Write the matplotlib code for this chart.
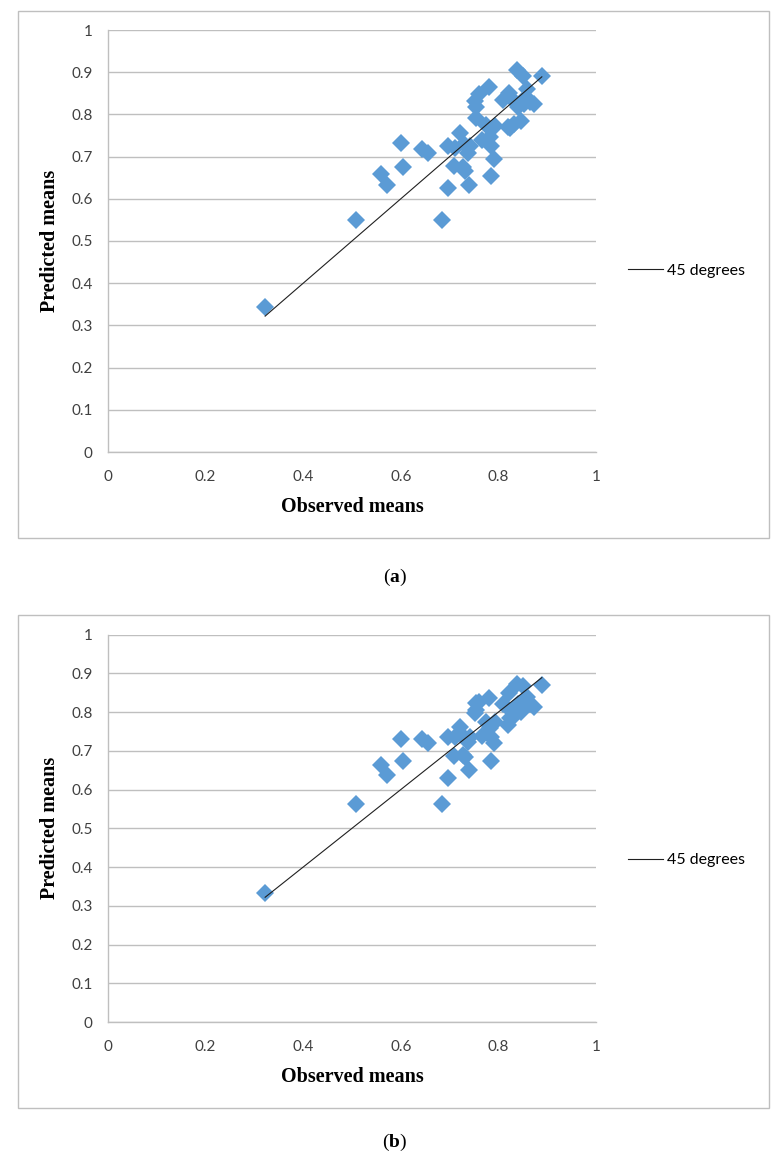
import matplotlib
matplotlib.use("Agg")
import matplotlib.pyplot as plt
from matplotlib.patches import Rectangle

plt.rcParams['mathtext.fontset'] = 'custom'
plt.rcParams['mathtext.rm'] = 'Liberation Serif'
plt.rcParams['mathtext.bf'] = 'Liberation Serif:bold'

# ---- data ----
observed = [0.322, 0.508, 0.559, 0.571, 0.601, 0.605, 0.643, 0.655, 0.684, 0.697,
            0.696, 0.708, 0.711, 0.721, 0.728, 0.732, 0.730, 0.738, 0.740, 0.742,
            0.752, 0.754, 0.755, 0.760, 0.766, 0.775, 0.781, 0.783, 0.785, 0.785,
            0.790, 0.793, 0.810, 0.820, 0.822, 0.824, 0.827, 0.831, 0.839, 0.841,
            0.846, 0.851, 0.852, 0.857, 0.858, 0.865, 0.872, 0.889]
predicted_a = [0.344, 0.550, 0.659, 0.632, 0.733, 0.675, 0.718, 0.708, 0.549, 0.626,
               0.724, 0.677, 0.721, 0.756, 0.675, 0.667, 0.730, 0.708, 0.633, 0.726,
               0.831, 0.817, 0.792, 0.849, 0.740, 0.776, 0.864, 0.746, 0.724, 0.654,
               0.695, 0.772, 0.833, 0.770, 0.850, 0.767, 0.837, 0.778, 0.906, 0.817,
               0.784, 0.892, 0.825, 0.842, 0.861, 0.829, 0.825, 0.892]
predicted_b = [0.332, 0.564, 0.663, 0.637, 0.730, 0.673, 0.730, 0.721, 0.563, 0.631,
               0.735, 0.686, 0.735, 0.762, 0.689, 0.684, 0.735, 0.723, 0.650, 0.735,
               0.797, 0.824, 0.805, 0.826, 0.738, 0.775, 0.837, 0.758, 0.736, 0.673,
               0.720, 0.775, 0.820, 0.766, 0.848, 0.784, 0.800, 0.790, 0.872, 0.822,
               0.800, 0.867, 0.815, 0.825, 0.840, 0.822, 0.814, 0.870]
x_ticks = [0, 0.2, 0.4, 0.6, 0.8, 1]
x_tick_labels = ["0", "0.2", "0.4", "0.6", "0.8", "1"]
y_ticks = [i / 10 for i in range(11)]
y_tick_labels = ["0", "0.1", "0.2", "0.3", "0.4", "0.5", "0.6", "0.7", "0.8", "0.9", "1"]
panel_labels = ["a", "b"]
legend_label = "45 degrees"

W, H = 780, 1158
fig = plt.figure(figsize=(W / 100, H / 100), dpi=100)

def px_rect(x0, y0, x1, y1):
    return [x0 / W, 1 - y1 / H, (x1 - x0) / W, (y1 - y0) / H]

GRID = '#BFBFBF'
BLUE = '#5B9BD5'
tick_font = 'Lato'

panels = [
    dict(pred=predicted_a, ax=(108, 30, 596, 452), box=(17.5, 10.7, 769, 538), lab_y=577, leg_y=0.43),
    dict(pred=predicted_b, ax=(108, 634.6, 596, 1022), box=(17.5, 615, 769, 1108), lab_y=1142, leg_y=0.418),
]

for p, plab in zip(panels, panel_labels):
    bx0, by0, bx1, by1 = p['box']
    fig.patches.append(Rectangle((bx0 / W, 1 - by1 / H), (bx1 - bx0) / W, (by1 - by0) / H,
                                 transform=fig.transFigure, fill=False,
                                 edgecolor=GRID, linewidth=1.0))
    ax = fig.add_axes(px_rect(*p['ax']))
    ax.set_xlim(0, 1)
    ax.set_ylim(0, 1)
    ax.set_xticks(x_ticks)
    ax.set_xticklabels(x_tick_labels, fontfamily=tick_font, fontsize=11)
    ax.set_yticks(y_ticks)
    ax.set_yticklabels(y_tick_labels, fontfamily=tick_font, fontsize=11)
    ax.tick_params(axis='both', length=0, colors='#404040')
    ax.tick_params(axis='x', pad=13)
    ax.tick_params(axis='y', pad=11)
    ax.yaxis.grid(True, color=GRID, linewidth=1.0)
    ax.set_axisbelow(True)
    for s in ['top', 'right']:
        ax.spines[s].set_visible(False)
    for s in ['left', 'bottom']:
        ax.spines[s].set_color(GRID)
        ax.spines[s].set_linewidth(1.0)
    ax.plot(observed, p['pred'], linestyle='none', marker='D', markersize=9,
            color=BLUE, markeredgewidth=0, zorder=3)
    line, = ax.plot([min(observed), max(observed)], [min(observed), max(observed)],
                    color='#202020', linewidth=0.8, zorder=4)
    ax.set_xlabel("Observed means", fontfamily='Liberation Serif', fontweight='bold',
                  fontsize=14.5, labelpad=9)
    ax.set_ylabel("Predicted means", fontfamily='Liberation Serif', fontweight='bold',
                  fontsize=14.5, labelpad=8)
    ax.legend(handles=[line], labels=[legend_label], loc='center left',
              bbox_to_anchor=(1.066, p['leg_y']), frameon=False, borderaxespad=0,
              borderpad=0, handlelength=2.2, handletextpad=0.25,
              prop={'family': tick_font, 'size': 11.5})
    fig.text(395 / W, 1 - p['lab_y'] / H, r'$\mathrm{(}\mathbf{%s}\mathrm{)}$' % plab,
             ha='center', va='center', fontsize=14)

fig.savefig("out.png", dpi=100, facecolor='white')
